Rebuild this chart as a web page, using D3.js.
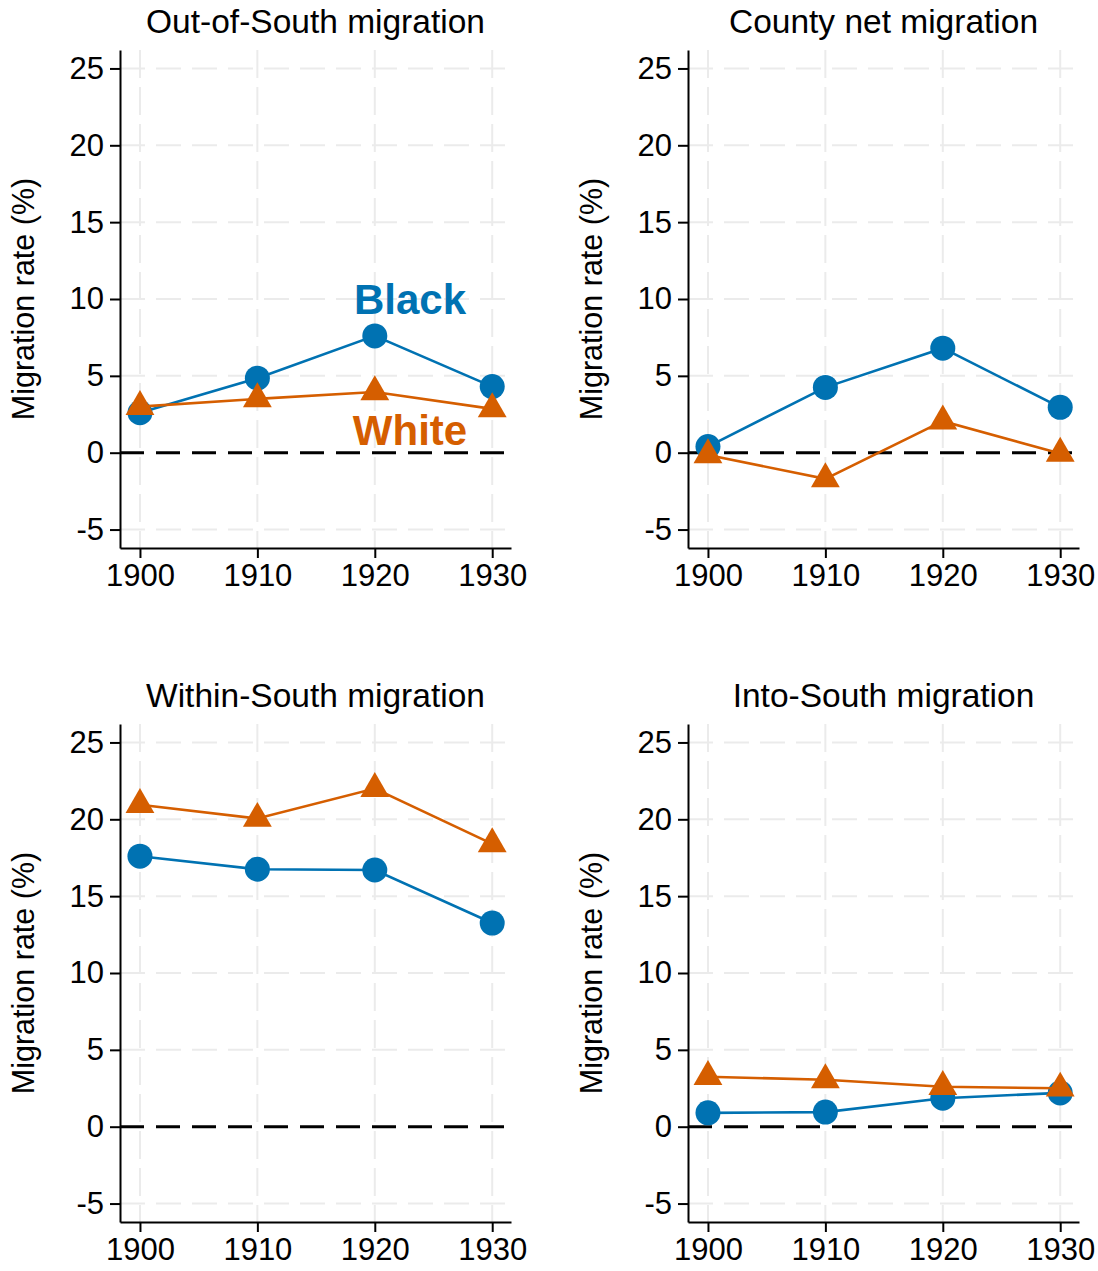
<!DOCTYPE html>
<html>
<head>
<meta charset="utf-8">
<script src="https://cdn.jsdelivr.net/npm/d3@7"></script>
<style>
  body { margin: 0; background: #fff; }
  svg { font-family: "Liberation Sans", Arial, sans-serif; }
</style>
</head>
<body>
<svg id="chart" width="1098" height="1271"></svg>
<script>
// data
const years = [1900, 1910, 1920, 1930];
const yTicks = [-5, 0, 5, 10, 15, 20, 25];
const titles = ['Out-of-South migration', 'County net migration', 'Within-South migration', 'Into-South migration'];
const blackRates = [
  [2.6, 4.85, 7.6, 4.3],
  [0.4, 4.25, 6.8, 2.95],
  [17.6, 16.75, 16.7, 13.25],
  [0.9, 0.95, 1.85, 2.2]
];
const whiteRates = [
  [3.0, 3.5, 3.95, 2.85],
  [-0.15, -1.7, 2.05, -0.05],
  [20.95, 20.05, 22.0, 18.4],
  [3.25, 3.05, 2.6, 2.5]
];

const BLUE = '#0072B2';
const ORANGE = '#D55E00';
const GRID = '#ebebeb';

const svg = d3.select('svg#chart');
const PLOT_W = 391;
const PLOT_H = 498;
const origins = [[120, 50], [688, 50], [120, 724], [688, 724]];

const xScale = d3.scaleLinear().domain([1898.3, 1931.6]).range([0, PLOT_W]);
const yScale = d3.scaleLinear().domain([-6.2, 26.2]).range([PLOT_H, 0]);

titles.forEach((title, i) => {
  const [ox, oy] = origins[i];
  const g = svg.append('g').attr('transform', `translate(${ox},${oy})`);

  // grid
  g.selectAll('line.hgrid')
    .data(yTicks.filter(t => t !== 0))
    .join('line')
      .attr('x1', 0).attr('x2', PLOT_W)
      .attr('y1', d => yScale(d)).attr('y2', d => yScale(d))
      .attr('stroke', GRID).attr('stroke-width', 2)
      .attr('stroke-dasharray', '25,11');
  g.selectAll('line.vgrid')
    .data(years)
    .join('line')
      .attr('x1', d => xScale(d)).attr('x2', d => xScale(d))
      .attr('y1', 0).attr('y2', PLOT_H)
      .attr('stroke', GRID).attr('stroke-width', 2)
      .attr('stroke-dasharray', '28,9');

  // zero reference line
  g.append('line')
    .attr('x1', 0).attr('x2', PLOT_W)
    .attr('y1', yScale(0)).attr('y2', yScale(0))
    .attr('stroke', '#000').attr('stroke-width', 3)
    .attr('stroke-dasharray', '24,12');

  // axes
  const yAxis = g.append('g')
    .call(d3.axisLeft(yScale).tickValues(yTicks).tickSize(10).tickPadding(6).tickSizeOuter(0));
  const xAxis = g.append('g')
    .attr('transform', `translate(0,${PLOT_H})`)
    .call(d3.axisBottom(xScale).tickValues(years).tickFormat(d3.format('d')).tickSize(10).tickPadding(6).tickSizeOuter(0));
  [xAxis, yAxis].forEach(ax => {
    ax.select('.domain').attr('stroke', '#000').attr('stroke-width', 2);
    ax.selectAll('.tick line').attr('stroke', '#000').attr('stroke-width', 2);
    ax.selectAll('text').attr('font-size', 31).attr('fill', '#000')
      .attr('font-family', '"Liberation Sans", Arial, sans-serif');
  });
  yAxis.selectAll('text').text(d => d < 0 ? '-' + Math.abs(d) : d);

  // title and axis label
  g.append('text')
    .attr('x', PLOT_W / 2).attr('y', -17)
    .attr('text-anchor', 'middle')
    .attr('font-size', 33.5)
    .text(title);
  g.append('text')
    .attr('transform', `translate(${-86},${PLOT_H / 2}) rotate(-90)`)
    .attr('text-anchor', 'middle')
    .attr('font-size', 30.5)
    .text('Migration rate (%)');

  // series
  const line = d3.line().x((d, j) => xScale(years[j])).y(d => yScale(d));
  g.append('path').datum(blackRates[i])
    .attr('d', line).attr('fill', 'none')
    .attr('stroke', BLUE).attr('stroke-width', 2.6);
  g.selectAll('circle.black')
    .data(blackRates[i])
    .join('circle')
      .attr('cx', (d, j) => xScale(years[j]))
      .attr('cy', d => yScale(d))
      .attr('r', 12.5)
      .attr('fill', BLUE);

  g.append('path').datum(whiteRates[i])
    .attr('d', line).attr('fill', 'none')
    .attr('stroke', ORANGE).attr('stroke-width', 2.6);
  const tri = d3.symbol().type(d3.symbolTriangle).size(360);
  g.selectAll('path.white')
    .data(whiteRates[i])
    .join('path')
      .attr('d', tri)
      .attr('transform', (d, j) => `translate(${xScale(years[j])},${yScale(d)})`)
      .attr('fill', ORANGE);

  if (i === 0) {
    g.append('text')
      .attr('x', xScale(1923)).attr('y', yScale(9.05))
      .attr('text-anchor', 'middle')
      .attr('font-size', 42).attr('font-weight', 'bold')
      .attr('fill', BLUE)
      .text('Black');
    g.append('text')
      .attr('x', xScale(1923)).attr('y', yScale(0.52))
      .attr('text-anchor', 'middle')
      .attr('font-size', 42).attr('font-weight', 'bold')
      .attr('fill', ORANGE)
      .text('White');
  }
});
</script>
</body>
</html>
